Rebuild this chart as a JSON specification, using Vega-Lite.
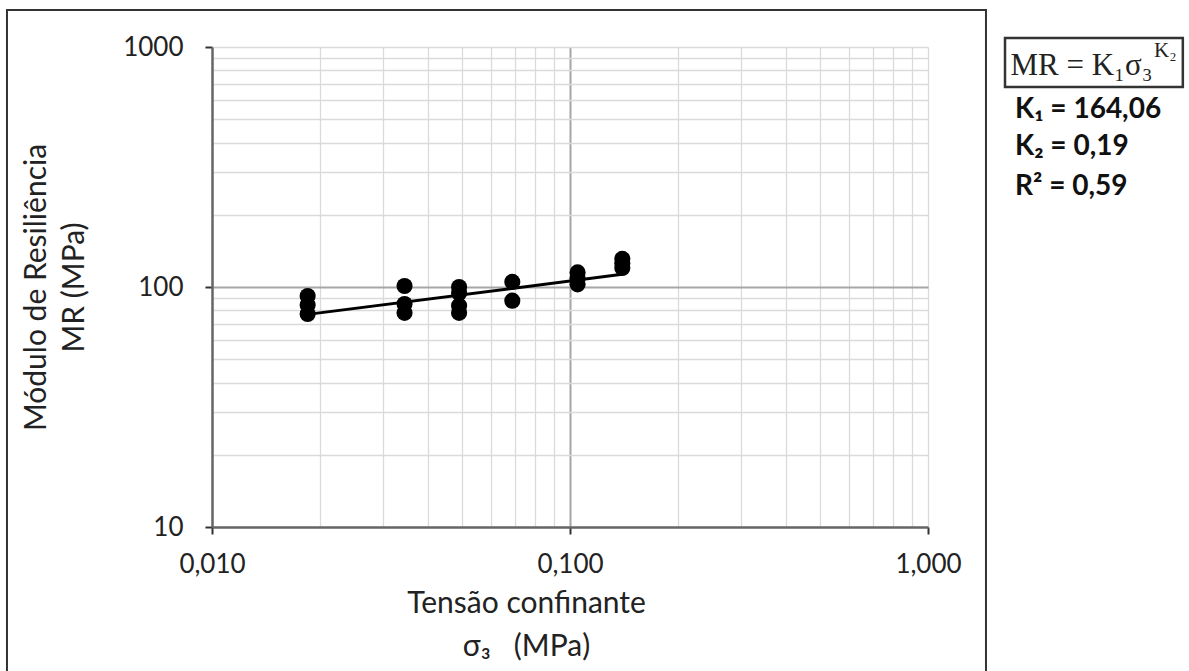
{
  "$schema": "https://vega.github.io/schema/vega-lite/v6.json",
  "width": 716,
  "height": 480,
  "autosize": {"type": "none"},
  "padding": {"left": 212, "top": 47, "right": 261, "bottom": 144},
  "background": "white",
  "config": {"view": {"stroke": null}, "font": "Lato"},
  "datasets": {
    "ensaios": [
      {"sigma3": 0.0185, "MR": 91.7},
      {"sigma3": 0.0185, "MR": 84.1},
      {"sigma3": 0.0185, "MR": 77.2},
      {"sigma3": 0.0345, "MR": 101},
      {"sigma3": 0.0345, "MR": 85},
      {"sigma3": 0.0345, "MR": 78},
      {"sigma3": 0.049, "MR": 100},
      {"sigma3": 0.049, "MR": 94.4},
      {"sigma3": 0.049, "MR": 83.5},
      {"sigma3": 0.049, "MR": 78},
      {"sigma3": 0.069, "MR": 105},
      {"sigma3": 0.069, "MR": 87.7},
      {"sigma3": 0.105, "MR": 115},
      {"sigma3": 0.105, "MR": 108.7},
      {"sigma3": 0.105, "MR": 102.6},
      {"sigma3": 0.14, "MR": 131},
      {"sigma3": 0.14, "MR": 125.6},
      {"sigma3": 0.14, "MR": 120}
    ],
    "tendencia": [
      {"sigma3": 0.0185, "MR": 76.9},
      {"sigma3": 0.14, "MR": 112.9}
    ]
  },
  "layer": [
    {
      "data": {"name": "ensaios"},
      "mark": {"type": "circle", "color": "black", "opacity": 1, "size": 260},
      "encoding": {
        "x": {
          "field": "sigma3",
          "type": "quantitative",
          "scale": {"type": "log", "domain": [0.01, 1], "nice": false},
          "axis": {
            "values": [0.01, 0.02, 0.03, 0.04, 0.05, 0.06, 0.07, 0.08, 0.09, 0.1, 0.2, 0.3, 0.4, 0.5, 0.6, 0.7, 0.8, 0.9, 1],
            "labelExpr": "datum.value == 0.01 ? '0,010' : (datum.value == 0.1 ? '0,100' : (datum.value == 1 ? '1,000' : ''))",
            "labelFont": "Lato",
            "labelFontSize": 26,
            "labelColor": "#222222",
            "labelPadding": 17,
            "labelFlush": false,
            "labelOverlap": false,
            "grid": true,
            "gridColor": {"condition": {"test": "datum.value == 0.1", "value": "#a6a6a6"}, "value": "#dadada"},
            "gridWidth": {"condition": {"test": "datum.value == 0.1", "value": 2}, "value": 1.3},
            "gridOpacity": 1,
            "domainColor": "#666666",
            "domainWidth": 2.5,
            "ticks": true,
            "tickSize": 7,
            "tickWidth": 2,
            "tickColor": "#333333",
            "tickOpacity": {"condition": {"test": "datum.value == 0.01 || datum.value == 0.1 || datum.value == 1", "value": 1}, "value": 0},
            "title": ["Tensão confinante", "σ₃\u00a0\u00a0 (MPa)"],
            "titleFont": "Lato",
            "titleFontSize": 30,
            "titleFontWeight": "normal",
            "titleColor": "#222222",
            "titleLineHeight": 43,
            "titlePadding": 11,
            "titleX": 314
          }
        },
        "y": {
          "field": "MR",
          "type": "quantitative",
          "scale": {"type": "log", "domain": [10, 1000], "nice": false},
          "axis": {
            "values": [10, 20, 30, 40, 50, 60, 70, 80, 90, 100, 200, 300, 400, 500, 600, 700, 800, 900, 1000],
            "labelExpr": "datum.value == 10 ? '10' : (datum.value == 100 ? '100' : (datum.value == 1000 ? '1000' : ''))",
            "labelFont": "Lato",
            "labelFontSize": 26,
            "labelColor": "#222222",
            "labelPadding": 22,
            "labelFlush": false,
            "labelOverlap": false,
            "grid": true,
            "gridColor": {"condition": {"test": "datum.value == 100", "value": "#a6a6a6"}, "value": "#dadada"},
            "gridWidth": {"condition": {"test": "datum.value == 100", "value": 2}, "value": 1.3},
            "gridOpacity": 1,
            "domainColor": "#666666",
            "domainWidth": 2.5,
            "ticks": true,
            "tickSize": 7,
            "tickWidth": 2,
            "tickColor": "#333333",
            "tickOpacity": {"condition": {"test": "datum.value == 10 || datum.value == 100 || datum.value == 1000", "value": 1}, "value": 0},
            "title": ["Módulo de Resiliência", "MR (MPa)"],
            "titleFont": "Lato",
            "titleFontSize": 30,
            "titleFontWeight": "normal",
            "titleColor": "#222222",
            "titleLineHeight": 38,
            "titlePadding": 33
          }
        }
      }
    },
    {
      "data": {"name": "tendencia"},
      "mark": {"type": "line", "color": "black", "strokeWidth": 3},
      "encoding": {
        "x": {"field": "sigma3", "type": "quantitative"},
        "y": {"field": "MR", "type": "quantitative"}
      }
    },
    {
      "data": {"values": [{}]},
      "mark": {"type": "rect", "fill": null, "fillOpacity": 0, "stroke": "#333333", "strokeWidth": 2, "clip": false},
      "encoding": {
        "x": {"datum": 0.002675, "type": "quantitative"},
        "x2": {"datum": 1.452},
        "y": {"datum": 1426, "type": "quantitative"},
        "y2": {"datum": 2.3}
      }
    },
    {
      "data": {"values": [{}]},
      "mark": {"type": "rect", "fill": null, "fillOpacity": 0, "stroke": "#333333", "strokeWidth": 2.5, "clip": false},
      "encoding": {
        "x": {"datum": 1.641, "type": "quantitative"},
        "x2": {"datum": 5.15},
        "y": {"datum": 1090, "type": "quantitative"},
        "y2": {"datum": 681}
      }
    },
    {
      "data": {"values": [{}]},
      "mark": {"type": "text", "text": "MR = K₁σ₃", "font": "Liberation Serif", "fontSize": 31, "align": "left", "baseline": "middle", "color": "#222222"},
      "encoding": {
        "x": {"datum": 1.7, "type": "quantitative"},
        "y": {"datum": 830, "type": "quantitative"}
      }
    },
    {
      "data": {"values": [{}]},
      "mark": {"type": "text", "text": "K₂", "font": "Liberation Serif", "fontSize": 21, "align": "left", "baseline": "middle", "color": "#222222"},
      "encoding": {
        "x": {"datum": 4.28, "type": "quantitative"},
        "y": {"datum": 965, "type": "quantitative"}
      }
    },
    {
      "data": {"values": [{}]},
      "mark": {"type": "text", "text": "K₁ = 164,06", "font": "Lato", "fontWeight": "bold", "fontSize": 28, "align": "left", "baseline": "middle", "color": "#111111"},
      "encoding": {
        "x": {"datum": 1.75, "type": "quantitative"},
        "y": {"datum": 546, "type": "quantitative"}
      }
    },
    {
      "data": {"values": [{}]},
      "mark": {"type": "text", "text": "K₂ = 0,19", "font": "Lato", "fontWeight": "bold", "fontSize": 28, "align": "left", "baseline": "middle", "color": "#111111"},
      "encoding": {
        "x": {"datum": 1.75, "type": "quantitative"},
        "y": {"datum": 383, "type": "quantitative"}
      }
    },
    {
      "data": {"values": [{}]},
      "mark": {"type": "text", "text": "R² = 0,59", "font": "Lato", "fontWeight": "bold", "fontSize": 28, "align": "left", "baseline": "middle", "color": "#111111"},
      "encoding": {
        "x": {"datum": 1.75, "type": "quantitative"},
        "y": {"datum": 261, "type": "quantitative"}
      }
    }
  ]
}
